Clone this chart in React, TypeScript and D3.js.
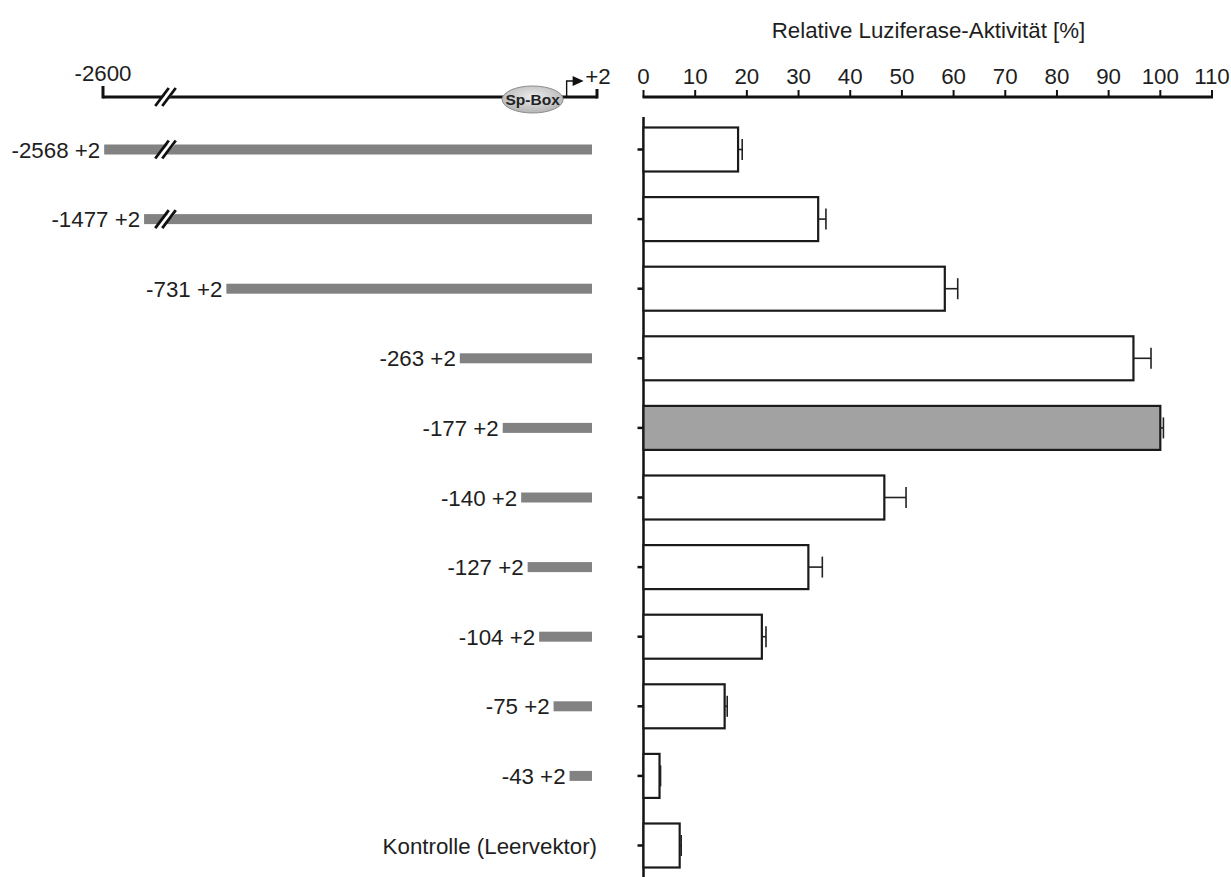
import React from "react";
import * as d3 from "d3";

const constructs = ["-2568 +2", "-1477 +2", "-731 +2", "-263 +2", "-177 +2", "-140 +2", "-127 +2", "-104 +2", "-75 +2", "-43 +2", "Kontrolle (Leervektor)"];
const startPositions: (number | null)[] = [-2568, -1477, -731, -263, -177, -140, -127, -104, -75, -43, null];
const activity = [18.3, 33.8, 58.3, 94.8, 100, 46.6, 31.9, 22.9, 15.7, 3.1, 7.0];
const errors = [0.8, 1.5, 2.5, 3.4, 0.6, 4.2, 2.7, 0.8, 0.5, 0.2, 0.3];
const highlighted = ["-177 +2"];
const brokenConstructs = ["-2568 +2", "-1477 +2"];
const xTicks = [0, 10, 20, 30, 40, 50, 60, 70, 80, 90, 100, 110];
const genomeStart = -2600;
const genomeBreak = -850;
const genomeEnd = 2;
const spBoxPos = -117;
const xTitle = "Relative Luziferase-Aktivität [%]";

const W = 1231;
const H = 877;
const FONT = "'Liberation Sans', Arial, Helvetica, sans-serif";
const TXT = "#1e1e1e";
const FS = 22.3;

export default function App() {
  const x = d3.scaleLinear().domain([0, 110]).range([643.5, 1212]);
  const y = d3.scalePoint<string>().domain(constructs).range([149.5, 845.5]);
  const barH = 44;
  const g = d3.scaleLinear().domain([genomeStart, genomeBreak, genomeEnd]).range([103, 167, 592]);
  const axisY = 97;
  const geneY = 97;
  const breakX = g(genomeBreak);
  const geneLeft = g(genomeStart);
  const geneRight = 597;
  const spX = g(spBoxPos);

  const breakMark = (cx: number, cy: number, h: number, key: string, bg: string) => {
    const dx = h * 0.75;
    return (
      <g key={key}>
        <polygon
          points={`${cx - 5 - dx},${cy + h} ${cx + 2 - dx},${cy + h} ${cx + 5 + dx},${cy - h} ${cx - 2 + dx},${cy - h}`}
          fill={bg}
        />
        <line x1={cx - 5 - dx} y1={cy + h} x2={cx - 5 + dx} y2={cy - h} stroke="#111" strokeWidth={2.8} />
        <line x1={cx + 2 - dx} y1={cy + h} x2={cx + 2 + dx} y2={cy - h} stroke="#111" strokeWidth={2.8} />
      </g>
    );
  };

  return (
    <svg width={W} height={H} style={{ position: "absolute", left: 0, top: 0, background: "#fff" }} fontFamily={FONT}>
      <defs>
        <radialGradient id="spgrad" cx="50%" cy="40%" r="60%">
          <stop offset="0%" stopColor="#ececec" />
          <stop offset="100%" stopColor="#b4b4b4" />
        </radialGradient>
      </defs>
      <rect x={0} y={0} width={W} height={H} fill="#fff" />

      {/* Title */}
      <text x={928.5} y={38} textAnchor="middle" fontSize={FS} fill={TXT}>{xTitle}</text>

      {/* Top axis */}
      <line x1={x(0) - 1} x2={x(110) + 1} y1={axisY} y2={axisY} stroke="#111" strokeWidth={3} />
      {xTicks.map((t) => (
        <g key={t}>
          <line x1={x(t)} x2={x(t)} y1={axisY} y2={axisY - 7} stroke="#111" strokeWidth={2} />
          <text x={x(t)} y={axisY - 13} textAnchor="middle" fontSize={FS} fill={TXT}>{t}</text>
        </g>
      ))}

      {/* Vertical category axis */}
      <line x1={x(0)} x2={x(0)} y1={117} y2={H} stroke="#111" strokeWidth={2.5} />
      {constructs.map((c) => (
        <line key={c} x1={x(0) - 6} x2={x(0)} y1={y(c)!} y2={y(c)!} stroke="#111" strokeWidth={2.5} />
      ))}

      {/* Bars */}
      {constructs.map((c, i) => {
        const cy = y(c)!;
        const v = activity[i];
        const e = errors[i];
        return (
          <g key={c}>
            <rect
              x={x(0)}
              y={cy - barH / 2}
              width={x(v) - x(0)}
              height={barH}
              fill={highlighted.includes(c) ? "#a2a2a2" : "#fff"}
              stroke="#1a1a1a"
              strokeWidth={2.2}
            />
            <line x1={x(v)} x2={x(v + e)} y1={cy} y2={cy} stroke="#222" strokeWidth={1.6} />
            <line x1={x(v + e)} x2={x(v + e)} y1={cy - 10.5} y2={cy + 10.5} stroke="#222" strokeWidth={1.6} />
          </g>
        );
      })}

      {/* Genomic map */}
      <line x1={geneLeft} x2={geneRight} y1={geneY} y2={geneY} stroke="#111" strokeWidth={3} />
      <line x1={geneLeft} x2={geneLeft} y1={geneY + 1.5} y2={geneY - 11} stroke="#111" strokeWidth={3} />
      <line x1={geneRight} x2={geneRight} y1={geneY + 1.5} y2={geneY - 8} stroke="#111" strokeWidth={3} />
      {breakMark(breakX, geneY, 9, "gb", "#fff")}
      <text x={geneLeft} y={81} textAnchor="middle" fontSize={FS} fill={TXT}>{genomeStart}</text>
      <text x={598} y={84} textAnchor="middle" fontSize={FS} fill={TXT}>+2</text>
      <ellipse cx={spX} cy={geneY + 2.5} rx={30.5} ry={13.5} fill="url(#spgrad)" stroke="#8c8c8c" strokeWidth={1} />
      <text x={spX} y={geneY + 8} textAnchor="middle" fontSize={15.5} fontWeight="bold" fill="#222">Sp-Box</text>
      <path d={`M${spX + 34},${geneY - 1} V${geneY - 16} H${spX + 42}`} fill="none" stroke="#111" strokeWidth={1.4} />
      <polygon points={`${spX + 40},${geneY - 21} ${spX + 51},${geneY - 16} ${spX + 40},${geneY - 11}`} fill="#111" />

      {/* Construct bars */}
      {constructs.map((c, i) => {
        const s = startPositions[i];
        const cy = y(c)!;
        if (s === null) {
          return (
            <text key={c} x={g(genomeEnd) + 5} y={cy} dy="0.36em" textAnchor="end" fontSize={FS} fill={TXT}>{c}</text>
          );
        }
        const x0 = g(s);
        return (
          <g key={c}>
            <rect x={x0} y={cy - 5} width={g(genomeEnd) - x0} height={10} fill="#828282" />
            {brokenConstructs.includes(c) && breakMark(breakX, cy, 9, c + "b", "#fff")}
            <text x={x0 - 4} y={cy} dy="0.36em" textAnchor="end" fontSize={FS} fill={TXT}>{c}</text>
          </g>
        );
      })}
    </svg>
  );
}
